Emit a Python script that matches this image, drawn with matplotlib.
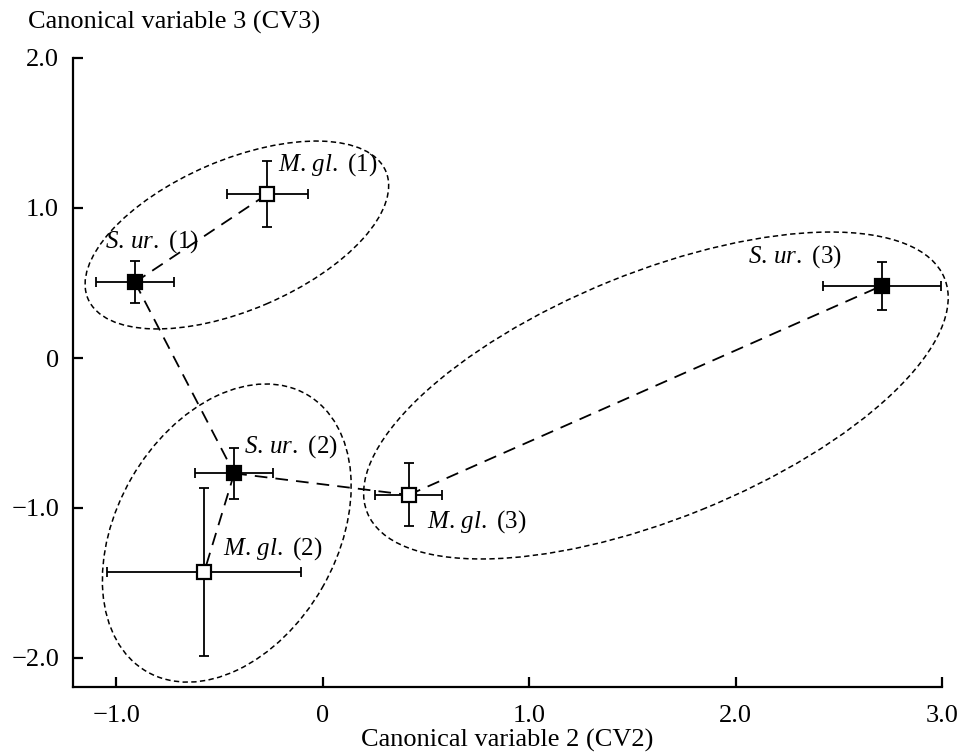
import matplotlib
matplotlib.use("Agg")
import matplotlib.pyplot as plt
from matplotlib.patches import Ellipse
from matplotlib.transforms import ScaledTranslation

plt.rcParams['font.family'] = ['Liberation Serif', 'DejaVu Serif']
plt.rcParams['mathtext.fontset'] = 'custom'
plt.rcParams['mathtext.rm'] = 'Liberation Serif'
plt.rcParams['mathtext.it'] = 'Liberation Serif:italic'

# ---- data ----
species = ['S. ur.', 'M. gl.', 'S. ur.', 'M. gl.', 'M. gl.', 'S. ur.']
groups = ['1', '1', '2', '2', '3', '3']
filled = [True, False, True, False, False, True]
cv2 = [-0.910, -0.268, -0.429, -0.575, 0.416, 2.709]
cv3 = [0.505, 1.093, -0.769, -1.429, -0.913, 0.482]
cv2_err = [0.19, 0.196, 0.189, 0.472, 0.162, 0.286]
cv3_err = [0.14, 0.22, 0.17, 0.56, 0.21, 0.16]

# connecting dashed path (indices into the point lists)
links = [(0, 1), (0, 2), (2, 3), (2, 4), (4, 5)]

# group ellipses: centre (data), width/height (inches), angle (deg on screen)
ell_cx = [-0.416, -0.465, 1.614]
ell_cy = [0.82, -1.167, -0.25]
ell_w = [3.24, 3.20, 6.23]
ell_h = [1.50, 2.20, 2.46]
ell_ang = [23.2, 60.0, 22.1]

# label offsets in pixels (left edge, vertical centre)
lab_dx = [-30, 11, 10, 19, 18, -134]
lab_dy = [41, 29, 27, 24, -27, 29]

xticks = [-1.0, 0.0, 1.0, 2.0, 3.0]
xticklabels = ['\u22121.0', '0', '1.0', '2.0', '3.0']
yticks = [-2.0, -1.0, 0.0, 1.0, 2.0]
yticklabels = ['\u22122.0', '\u22121.0', '0', '1.0', '2.0']

xlabel = 'Canonical variable 2 (CV2)'
ylabel = 'Canonical variable 3 (CV3)'

# ---- figure ----
fig = plt.figure(figsize=(9.63, 7.55), dpi=100)
ax = fig.add_axes([73 / 963, 1 - 686.5 / 755, 869 / 963, (686.5 - 58) / 755])
ax.set_xlim(-1.21, 3.0)
ax.set_ylim(-2.19, 2.0)

for (i, j) in links:
    ax.plot([cv2[i], cv2[j]], [cv3[i], cv3[j]], color='black', lw=1.3,
            dashes=(7, 4.5), zorder=2)

for k in range(len(cv2)):
    ax.errorbar(cv2[k], cv3[k], xerr=cv2_err[k], yerr=cv3_err[k],
                fmt='none', ecolor='black', elinewidth=1.3, capsize=3.5,
                capthick=1.3, zorder=3)
    ax.plot(cv2[k], cv3[k], marker='s', ms=10.5,
            mfc='black' if filled[k] else 'white', mec='black', mew=1.6,
            linestyle='none', zorder=4)
    ax.annotate(r'$\mathit{' + species[k].replace(' ', r'\,') + '}$ (' + groups[k] + ')',
                (cv2[k], cv3[k]), xytext=(lab_dx[k], lab_dy[k]),
                textcoords='offset pixels', ha='left', va='center',
                fontsize=18, zorder=5)

for k in range(len(ell_cx)):
    tr = fig.dpi_scale_trans + ScaledTranslation(ell_cx[k], ell_cy[k], ax.transData)
    e = Ellipse((0, 0), ell_w[k], ell_h[k], angle=ell_ang[k], transform=tr,
                fill=False, edgecolor='black', lw=1.1, linestyle=(0, (3.5, 2.2)),
                zorder=1, clip_on=False)
    ax.add_patch(e)

ax.set_xticks(xticks)
ax.set_xticklabels(xticklabels)
ax.set_yticks(yticks)
ax.set_yticklabels(yticklabels)
ax.tick_params(direction='in', length=7, width=1.6, labelsize=19)
ax.tick_params(axis='x', pad=13)
ax.tick_params(axis='y', pad=10)
for s in ['top', 'right']:
    ax.spines[s].set_visible(False)
for s in ['left', 'bottom']:
    ax.spines[s].set_linewidth(1.6)

ax.set_xlabel(xlabel, fontsize=19, labelpad=2)
fig.text(28 / 963, 1 - 22 / 755, ylabel, fontsize=19, ha='left', va='center')

fig.savefig('out.png', dpi=100)
